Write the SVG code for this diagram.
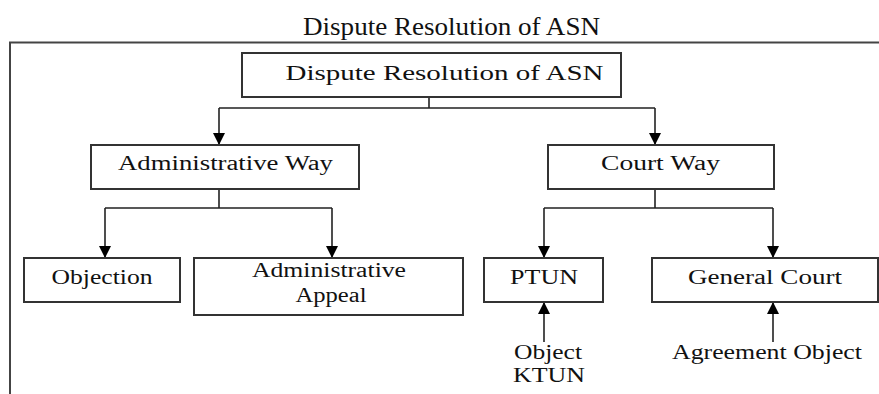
<svg xmlns="http://www.w3.org/2000/svg" width="879" height="394" viewBox="0 0 879 394">
<defs>
<marker id="ah" markerUnits="userSpaceOnUse" markerWidth="12" markerHeight="14" viewBox="0 0 12 14" refX="12" refY="7" orient="auto">
<path d="M0,1 L12,7 L0,13 Z" fill="#000"/>
</marker>
</defs>
<style>
.box{fill:#fff;stroke:#333;stroke-width:2}
.t{font-family:'Liberation Serif','Times New Roman',serif;font-size:20px;fill:#111;text-anchor:middle}
.c{fill:none;stroke:#222;stroke-width:1.6}
.frame{fill:none;stroke:#444;stroke-width:2}
</style>
<rect width="879" height="394" fill="#fff"/>
<text class="t" x="451.5" y="35" style="font-size:26px" textLength="297" lengthAdjust="spacingAndGlyphs">Dispute Resolution  of ASN</text>
<path class="frame" d="M10,394 V42.5 H879"/>

<g id="connectors">
<path class="c" d="M429,97 V108 M219,108 H655"/>
<path class="c" d="M219,108 V145" marker-end="url(#ah)"/>
<path class="c" d="M655,108 V145" marker-end="url(#ah)"/>
<path class="c" d="M219,189 V208 M105,208 H332"/>
<path class="c" d="M105,208 V258" marker-end="url(#ah)"/>
<path class="c" d="M332,208 V258" marker-end="url(#ah)"/>
<path class="c" d="M655,189 V208 M544,208 H773"/>
<path class="c" d="M544,208 V258" marker-end="url(#ah)"/>
<path class="c" d="M773,208 V258" marker-end="url(#ah)"/>
<path class="c" d="M544,342 V302" marker-end="url(#ah)"/>
<path class="c" d="M773,342 V302" marker-end="url(#ah)"/>
</g>

<g id="root">
<rect class="box" x="242" y="53" width="379" height="44"/>
<text class="t" x="444.5" y="80" style="font-size:22px" textLength="318" lengthAdjust="spacingAndGlyphs">Dispute  Resolution of ASN</text>
</g>
<g id="admin-way">
<rect class="box" x="91" y="145" width="268" height="44"/>
<text class="t" x="225.5" y="170" textLength="215" lengthAdjust="spacingAndGlyphs">Administrative  Way</text>
</g>
<g id="court-way">
<rect class="box" x="548" y="145" width="226" height="44"/>
<text class="t" x="660.5" y="170" textLength="119" lengthAdjust="spacingAndGlyphs">Court  Way</text>
</g>
<g id="objection">
<rect class="box" x="24" y="258" width="156" height="44"/>
<text class="t" x="102" y="284" textLength="101" lengthAdjust="spacingAndGlyphs">Objection</text>
</g>
<g id="admin-appeal">
<rect class="box" x="194" y="258" width="269" height="57"/>
<text class="t" x="329" y="277" textLength="154" lengthAdjust="spacingAndGlyphs">Administrative</text>
<text class="t" x="331" y="302" textLength="71" lengthAdjust="spacingAndGlyphs">Appeal</text>
</g>
<g id="ptun">
<rect class="box" x="484" y="258" width="119" height="44"/>
<text class="t" x="544" y="284" textLength="68" lengthAdjust="spacingAndGlyphs">PTUN</text>
</g>
<g id="general-court">
<rect class="box" x="652" y="258" width="226" height="44"/>
<text class="t" x="765" y="284" textLength="154" lengthAdjust="spacingAndGlyphs">General  Court</text>
</g>
<g id="object-ktun">
<text class="t" x="548" y="359" textLength="68" lengthAdjust="spacingAndGlyphs">Object</text>
<text class="t" x="549" y="382" textLength="72" lengthAdjust="spacingAndGlyphs">KTUN</text>
</g>
<g id="agreement-object">
<text class="t" x="767" y="359" textLength="190" lengthAdjust="spacingAndGlyphs">Agreement Object</text>
</g>
</svg>
